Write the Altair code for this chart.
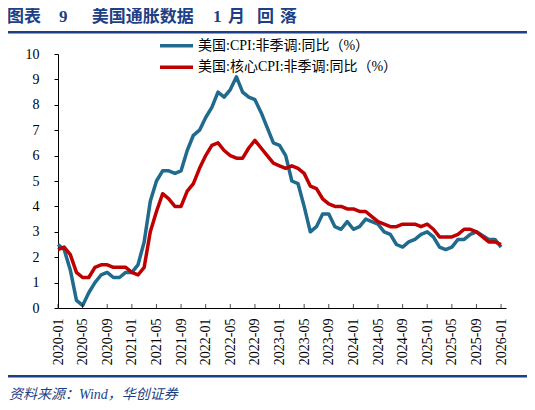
import altair as alt
import pandas as pd

# ---- data ----
series_names = ["美国:CPI:非季调:同比（%）", "美国:核心CPI:非季调:同比（%）"]
series_colors = ["#1F6A8D", "#C00000"]

tick_months = list(range(0, 73, 4))

cpi = [2.5, 2.3, 1.5, 0.3, 0.1, 0.6, 1.0, 1.3, 1.4, 1.2, 1.2, 1.4,
       1.4, 1.7, 2.6, 4.2, 5.0, 5.4, 5.4, 5.3, 5.4, 6.2, 6.8, 7.0,
       7.5, 7.9, 8.5, 8.3, 8.6, 9.1, 8.5, 8.3, 8.2, 7.7, 7.1, 6.5,
       6.4, 6.0, 5.0, 4.9, 4.0, 3.0, 3.2, 3.7, 3.7, 3.2, 3.1, 3.4,
       3.1, 3.2, 3.5, 3.4, 3.3, 3.0, 2.9, 2.5, 2.4, 2.6, 2.7, 2.9,
       3.0, 2.8, 2.4, 2.3, 2.4, 2.7, 2.7, 2.9, 3.0, None, 2.7, 2.7,
       2.4]
core = [2.3, 2.4, 2.1, 1.4, 1.2, 1.2, 1.6, 1.7, 1.7, 1.6, 1.6, 1.6,
        1.4, 1.3, 1.6, 3.0, 3.8, 4.5, 4.3, 4.0, 4.0, 4.6, 4.9, 5.5,
        6.0, 6.4, 6.5, 6.2, 6.0, 5.9, 5.9, 6.3, 6.6, 6.3, 6.0, 5.7,
        5.6, 5.5, 5.6, 5.5, 5.3, 4.8, 4.7, 4.3, 4.1, 4.0, 4.0, 3.9,
        3.9, 3.8, 3.8, 3.6, 3.4, 3.3, 3.2, 3.2, 3.3, 3.3, 3.3, 3.2,
        3.3, 3.1, 2.8, 2.8, 2.8, 2.9, 3.1, 3.1, 3.0, None, 2.6, 2.6,
        2.5]

title_parts = ["图表", "9", "美国通胀数据", "1", "月", "回", "落"]
title_x = [-51, 1, 33.7, 155, 170, 199, 222]
source_text = "资料来源：Wind，华创证券"

# ---- build table ----
rows = []
for name, vals in zip(series_names, [cpi, core]):
    for i, v in enumerate(vals):
        if v is not None:
            rows.append({"i": i, "v": v, "s": name})
df = pd.DataFrame(rows)
ticks_df = pd.DataFrame({"i": tick_months})
title_df = pd.DataFrame({"t": title_parts, "px": title_x})

W, H = 448, 254
NAVY = "#1D3F85"
SERIF = "Liberation Serif, Noto Sans CJK SC"

xscale = alt.Scale(domain=[0, 72.8], nice=False, zero=False)
xaxis = alt.Axis(
    values=tick_months,
    labelExpr="(2020 + floor(datum.value / 12)) + '-' + ((datum.value % 12) < 9 ? '0' : '') + ((datum.value % 12) + 1)",
    labelAngle=270, labelAlign="right", labelBaseline="middle",
    ticks=False, tickSize=0, labelPadding=10, grid=False, title=None,
    domainColor="black", labelFont="Liberation Serif", labelFontSize=14,
    labelColor="black", labelOverlap=False,
)
yaxis = alt.Axis(
    values=list(range(0, 11)), tickSize=4, tickColor="black", labelPadding=15,
    grid=False, title=None, domainColor="black", labelFont="Liberation Serif",
    labelFontSize=14, labelColor="black",
)

lines = alt.Chart(df).mark_line(strokeWidth=3.5, strokeJoin="round").encode(
    x=alt.X("i:Q", scale=xscale, axis=xaxis),
    y=alt.Y("v:Q", scale=alt.Scale(domain=[0, 10], nice=False), axis=yaxis),
    color=alt.Color(
        "s:N",
        scale=alt.Scale(domain=series_names, range=series_colors),
        sort=series_names,
        legend=None,
    ),
)

xticks = alt.Chart(ticks_df).mark_tick(orient="vertical", size=4, thickness=1, color="black").encode(
    x=alt.X("i:Q", scale=xscale, axis=xaxis),
    y=alt.value(H - 2),
)

title = alt.Chart(title_df).mark_text(align="left", baseline="middle", font=SERIF, fontSize=17,
                                      fontWeight="bold", color=NAVY).encode(
    x=alt.X("px:Q", scale=None), y=alt.value(-37), text="t:N")

one = pd.DataFrame({"k": [0]})
rule_top = alt.Chart(one).mark_rule(color=NAVY, strokeWidth=2.5).encode(
    x=alt.value(-52), x2=alt.value(472), y=alt.value(-21.8))
rule_bot = alt.Chart(one).mark_rule(color=NAVY, strokeWidth=2.5).encode(
    x=alt.value(-52), x2=alt.value(472), y=alt.value(322.2))
src = alt.Chart(one).mark_text(align="left", baseline="middle", font=SERIF, fontSize=14,
                               fontStyle="italic", color=NAVY).encode(
    x=alt.value(-49), y=alt.value(341), text=alt.value(source_text))

# custom legend (two entries)
legend_layers = []
for k, (name, col) in enumerate(zip(series_names, series_colors)):
    ly = -8.3 + k * 21.6
    legend_layers.append(
        alt.Chart(one).mark_rule(color=col, strokeWidth=3.5).encode(
            x=alt.value(102), x2=alt.value(135), y=alt.value(ly)))
    legend_layers.append(
        alt.Chart(one).mark_text(align="left", baseline="middle", font=SERIF, fontSize=14,
                                 color="black").encode(
            x=alt.value(140), y=alt.value(ly), text=alt.value(name)))

chart = alt.layer(lines, xticks, title, rule_top, rule_bot, src, *legend_layers).properties(
    width=W, height=H,
    padding={"left": 50, "top": 46, "right": 21, "bottom": 94},
    autosize=alt.AutoSizeParams(type="none"),
    background="white",
).configure_view(stroke=None)

chart.save("out.html", embed_options={"renderer": "svg", "actions": False})
